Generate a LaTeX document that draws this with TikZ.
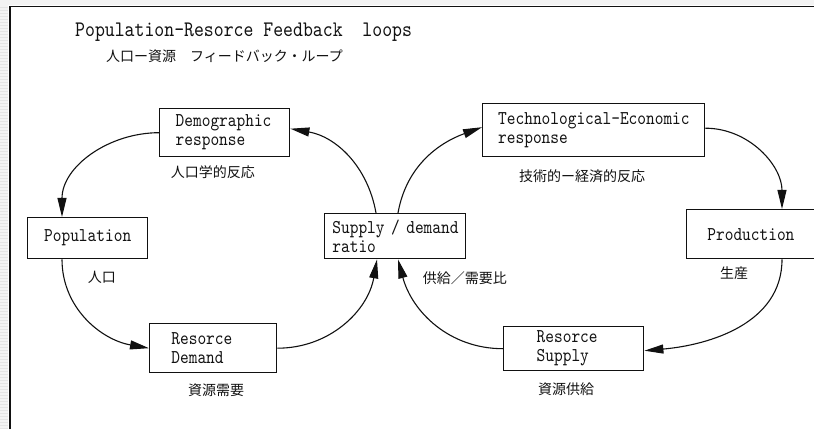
\documentclass[tikz,border=0pt]{standalone}
\usepackage{fontspec}
\usepackage{tikz}
\usetikzlibrary{positioning,arrows.meta,calc}
\newfontfamily\lmfont[Extension=.otf,FakeStretch=0.85]{lmmono10-regular}
\newfontfamily\jafont{Noto Sans CJK JP}
\definecolor{ink}   {HTML}{111111}
\definecolor{strip} {HTML}{E4E4E4}
\definecolor{stripl}{HTML}{F3F3F3}
\tikzset{
  % --- nodes
  box/.style  = {draw=ink, line width=1.4pt, anchor=north west, align=left,
                 inner ysep=0pt, text=ink, font=\lmfont\fontsize{19.5}{19}\selectfont},
  ttl/.style  = {anchor=base west, inner sep=0pt, text=ink,
                 font=\lmfont\fontsize{22.2}{24}\selectfont},
  jlbl/.style = {anchor=west, inner sep=0pt, text=ink,
                 font=\jafont\fontsize{14}{16}\selectfont},
  % --- edges
  e/.style    = {-{Triangle[length=19pt,width=9pt]}, line width=1.1pt, draw=ink},
}

\begin{document}
\begin{tikzpicture}[x=1pt,y=1pt]
  \useasboundingbox (0,0) rectangle (814,429);
  % window frame
  \fill[stripl] (0,0) rectangle (8,429);
  \foreach \y in {1,4,...,427}
    \draw[strip, line width=1pt] (0,\y) -- (8,\y);
  \fill[stripl] (0,424) rectangle (814,429);
  \draw[ink, line width=1.8pt] (10,0) -- (10,422.5) -- (814,422.5);

  % titles
  \node[ttl]  (title) at (75,392)  {Population-Resorce Feedback~~loops};
  \node[jlbl] (sub)   at (106,373) {人口ー資源　フィードバック・ループ};

  % boxes
  \node[box, inner xsep=16pt, text width=98pt, minimum height=48pt] (dem) at (159,321)
    {Demographic\\response};
  \node[box, inner xsep=15.5pt, text width=191pt, minimum height=53pt] (tech) at (482,326)
    {\mbox{Technological-Economic}\\response};
  \node[box, align=center, inner xsep=0pt, minimum width=120pt, minimum height=41pt] (pop) at (27,212)
    {Population};
  \node[box, inner xsep=7.7pt, text width=125.6pt, minimum height=45pt] (sd) at (324,216)
    {\mbox{Supply / demand}\\ratio};
  \node[box, inner xsep=20.7pt, text width=88.6pt, minimum height=49pt] (prod) at (686,220)
    {Production};
  \node[box, inner xsep=21.7pt, text width=83.6pt, minimum height=49pt] (rd) at (149,106)
    {Resorce\\Demand};
  \node[box, inner xsep=33pt, text width=74pt, minimum height=44pt] (rs) at (503,103)
    {Resorce\\Supply};

  % japanese captions
  \node[jlbl] (demj)  at (170.7,257) {人口学的反応};
  \node[jlbl] (techj) at (519,252.5) {技術的ー経済的反応};
  \node[jlbl] (popj)  at (87.7,152)  {人口};
  \node[jlbl] (sdj)   at (422.7,151) {供給／需要比};
  \node[jlbl] (prodj) at (720,156)   {生産};
  \node[jlbl] (rdj)   at (188,39)    {資源需要};
  \node[jlbl] (rsj)   at (538,39.5)  {資源供給};

  % left loop
  \draw[e] (dem.west) to[out=180,in=90] ([xshift=35pt]pop.north west);
  \draw[e] ([xshift=35pt]pop.south west) to[out=-90,in=170] (rd.west);
  \draw[e] (rd.east) to[out=0,in=-100] ([xshift=53pt]sd.south west);
  \draw[e] ([xshift=52pt]sd.north west) to[out=100,in=-10] ([yshift=4pt]dem.east);
  % right loop
  \draw[e] ([xshift=74pt]sd.north west) to[out=80,in=-160] ([yshift=3pt]tech.west);
  \draw[e] ([yshift=2pt]tech.east) to[out=0,in=90] ([xshift=96pt]prod.north west);
  \draw[e] ([xshift=96pt]prod.south west) to[out=-90,in=5] ([yshift=-2pt]rs.east);
  \draw[e] (rs.west) to[out=180,in=-75] ([xshift=74pt]sd.south west);
\end{tikzpicture}
\end{document}
